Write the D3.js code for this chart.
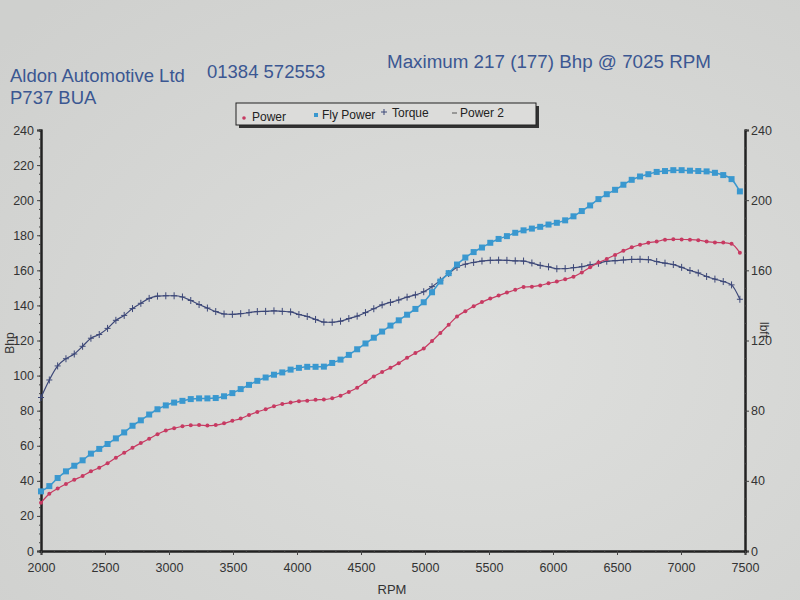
<!DOCTYPE html>
<html><head><meta charset="utf-8">
<script src="https://cdn.jsdelivr.net/npm/d3@7"></script>
<style>
html,body{margin:0;padding:0;background:#d8d9d7;}
svg{display:block;font-family:"Liberation Sans",Arial,sans-serif;}
</style></head>
<body><svg id="c" width="800" height="600"></svg>
<script>
const rpm = [2000,2065,2130,2195,2260,2325,2390,2455,2520,2585,2650,2715,2780,2845,2910,2975,3040,3105,3170,3235,3300,3365,3430,3495,3560,3625,3690,3755,3820,3885,3950,4015,4080,4145,4210,4275,4340,4405,4470,4535,4600,4665,4730,4795,4860,4925,4990,5055,5120,5185,5250,5315,5380,5445,5510,5575,5640,5705,5770,5835,5900,5965,6030,6095,6160,6225,6290,6355,6420,6485,6550,6615,6680,6745,6810,6875,6940,7005,7070,7135,7200,7265,7330,7395,7460];
const power = [27.5,32.6,35.6,38.2,40.6,42.8,45.4,47.5,50,53.2,56,58.9,61.5,64,66.6,68.7,70,71.1,71.7,71.8,71.5,71.8,72.8,74.2,75.5,77.5,79.3,80.8,82.5,83.8,84.6,85.4,85.7,86.2,86.3,87.1,88.5,90.7,93.1,96.3,99.5,102,104.4,107.1,110.1,112.9,115.5,119.7,124.3,129,133.7,136.7,139.5,141.9,143.9,145.6,147.3,148.9,150.5,150.7,151.4,152.6,153.6,154.9,156.4,158.8,161.7,164.4,166.5,168.8,171.1,173.1,174.6,175.7,176.4,177.5,177.7,177.6,177.5,177.2,176.4,175.9,175.8,175.1,170];
const flyPower = [34,37,41.6,45.4,48.6,51.7,55.5,58.2,61,64.2,67.6,71.4,74.5,77.8,80.8,83,84.6,85.6,86.6,87,87,87.2,88.2,90,92.3,94.7,97,98.9,100.5,101.8,103.4,104.4,105,105,105.1,107.2,109.1,111.8,115,118.3,121.6,125.1,128.5,131.5,134.7,138,141.8,147.5,153.6,158.4,163.3,167.3,170.4,173,175.7,177.9,179.5,181.4,182.8,183.8,184.8,186.1,187.1,188.5,190.8,193.8,197,200.6,203.4,205.9,208.8,211.6,213.5,214.8,216.1,216.6,217.1,217.1,216.8,216.6,216.4,215.6,214.3,212,205];
const torque = [87.5,97.5,105.5,109.6,112.3,116.7,121.3,123.4,126.9,131.5,134.3,138.2,141.2,144,145.3,145.5,145.5,144.8,142.8,140.5,138.5,136.5,135.1,134.9,135.3,135.9,136.5,136.6,136.9,136.6,136.3,134.8,133.7,132,130.5,130.4,131,132.5,133.9,135.9,138.1,140.3,141.7,143.1,144.7,146,147.8,150.7,154.3,158.2,161.7,163.5,164.5,165.3,165.7,165.8,165.7,165.4,165.3,164.2,162.8,162,160.9,161,161.5,162.1,163.1,164,165.2,165.5,165.9,166.2,166.3,166.1,165,164.1,163.3,161.7,159.9,158.5,156.5,155,153.6,151.7,143.5];
const leftTicks = [0,20,40,60,80,100,120,140,160,180,200,220,240];
const rightTicks = [0,40,80,120,160,200,240];
const xTicks = [2000,2500,3000,3500,4000,4500,5000,5500,6000,6500,7000,7500];
const legendItems = ["Power","Fly Power","Torque","Power 2"];
const headerLeft = "Aldon Automotive Ltd", headerPhone = "01384 572553", headerMax = "Maximum 217 (177) Bhp @ 7025 RPM", headerReg = "P737 BUA";

const svg = d3.select("#c");
const W=800,H=600, L=41, R=745, T=130, B=551;
const x = d3.scaleLinear().domain([2000,7500]).range([L,R]);
const y = d3.scaleLinear().domain([0,240]).range([B,T]);

// paper
const grad = svg.append("defs").append("radialGradient").attr("id","paper").attr("cx","60%").attr("cy","60%").attr("r","80%");
grad.append("stop").attr("offset","0%").attr("stop-color","#dedfdd");
grad.append("stop").attr("offset","100%").attr("stop-color","#cfd0ce");
svg.append("rect").attr("width",W).attr("height",H).attr("fill","url(#paper)");

// header
const hc = "#3b5792";
svg.append("text").attr("x",10).attr("y",82).attr("font-size",18.5).attr("fill",hc).text(headerLeft);
svg.append("text").attr("x",207).attr("y",78).attr("font-size",18.5).attr("fill",hc).text(headerPhone);
svg.append("text").attr("x",387).attr("y",68).attr("font-size",18.8).attr("fill",hc).text(headerMax);
svg.append("text").attr("x",10).attr("y",104).attr("font-size",18.5).attr("fill",hc).text(headerReg);

// legend
const lg = svg.append("g");
lg.append("rect").attr("x",239).attr("y",106).attr("width",300).attr("height",22).attr("fill","#333");
lg.append("rect").attr("x",236).attr("y",103).attr("width",300).attr("height",22).attr("fill","#dcdcda").attr("stroke","#222").attr("stroke-width",1);
lg.append("circle").attr("cx",244).attr("cy",118).attr("r",1.8).attr("fill","#c73a62");
lg.append("rect").attr("x",314).attr("y",113).attr("width",4).attr("height",4).attr("fill","#3a98cf");
lg.append("path").attr("d",`M381,112h6M384,109v6`).attr("stroke","#3d4878").attr("stroke-width",1);
lg.append("path").attr("d",`M452,113h5`).attr("stroke","#555").attr("stroke-width",1);
const lgTx = [[252,121],[322,119],[392,117],[460,117]];
legendItems.forEach((t,i)=>{
  lg.append("text").attr("x",lgTx[i][0]).attr("y",lgTx[i][1]).attr("font-size",12).attr("fill","#222").text(t);
});

// axes
const axCol="#222";
svg.append("g").attr("transform",`translate(${L},0)`)
  .call(d3.axisLeft(y).tickValues(leftTicks).tickSize(4).tickPadding(3));
svg.append("g").attr("transform",`translate(${L},0)`)
  .call(d3.axisLeft(y).tickValues(d3.range(0,241,5)).tickSize(2).tickFormat(""));
svg.append("g").attr("transform",`translate(${R},0)`)
  .call(d3.axisRight(y).tickValues(rightTicks).tickSize(4).tickPadding(2));
svg.append("g").attr("transform",`translate(${R},0)`)
  .call(d3.axisRight(y).tickValues(d3.range(0,241,10)).tickSize(2).tickFormat(""));
svg.append("g").attr("transform",`translate(0,${B})`)
  .call(d3.axisBottom(x).tickValues(xTicks).tickSize(4).tickPadding(8).tickFormat(d3.format("d")));
svg.append("g").attr("transform",`translate(0,${B})`)
  .call(d3.axisBottom(x).tickValues(d3.range(2000,7501,100)).tickSize(2).tickFormat(""));
svg.selectAll(".domain").attr("stroke",axCol).attr("stroke-width",2);
svg.selectAll(".tick line").attr("stroke","#444");
svg.selectAll(".tick text").attr("font-size",12.5).attr("fill","#333").attr("font-family","Liberation Sans, Arial, sans-serif");

svg.append("text").attr("transform",`translate(14,343) rotate(-90)`).attr("text-anchor","middle").attr("font-size",12).attr("fill","#333").text("Bhp");
svg.append("text").attr("transform",`translate(760,330) rotate(90)`).attr("text-anchor","middle").attr("font-size",12).attr("fill","#333").text("lbft");
svg.append("text").attr("x",392).attr("y",594).attr("text-anchor","middle").attr("font-size",13).attr("fill","#333").text("RPM");

// series
const line = vals => d3.line().x((d,i)=>x(rpm[i])).y(d=>y(d)).curve(d3.curveMonotoneX)(vals);
// torque
svg.append("path").attr("d",line(torque)).attr("fill","none").attr("stroke","#3d4878").attr("stroke-width",1.2);
svg.append("g").selectAll("path").data(torque).join("path")
  .attr("d",(d,i)=>`M${x(rpm[i])-3},${y(d)}h6M${x(rpm[i])},${y(d)-3.5}v7`)
  .attr("stroke","#3d4878").attr("stroke-width",1);
// fly power
svg.append("path").attr("d",line(flyPower)).attr("fill","none").attr("stroke","#3a98cf").attr("stroke-width",1.5);
svg.append("g").selectAll("rect").data(flyPower).join("rect")
  .attr("x",(d,i)=>x(rpm[i])-3).attr("y",d=>y(d)-3).attr("width",6).attr("height",6)
  .attr("fill","#3a98cf");
// power
svg.append("path").attr("d",line(power)).attr("fill","none").attr("stroke","#c73a62").attr("stroke-width",1.2);
svg.append("g").selectAll("circle").data(power).join("circle")
  .attr("cx",(d,i)=>x(rpm[i])).attr("cy",d=>y(d)).attr("r",2)
  .attr("fill","#c73a62");
</script></body></html>
